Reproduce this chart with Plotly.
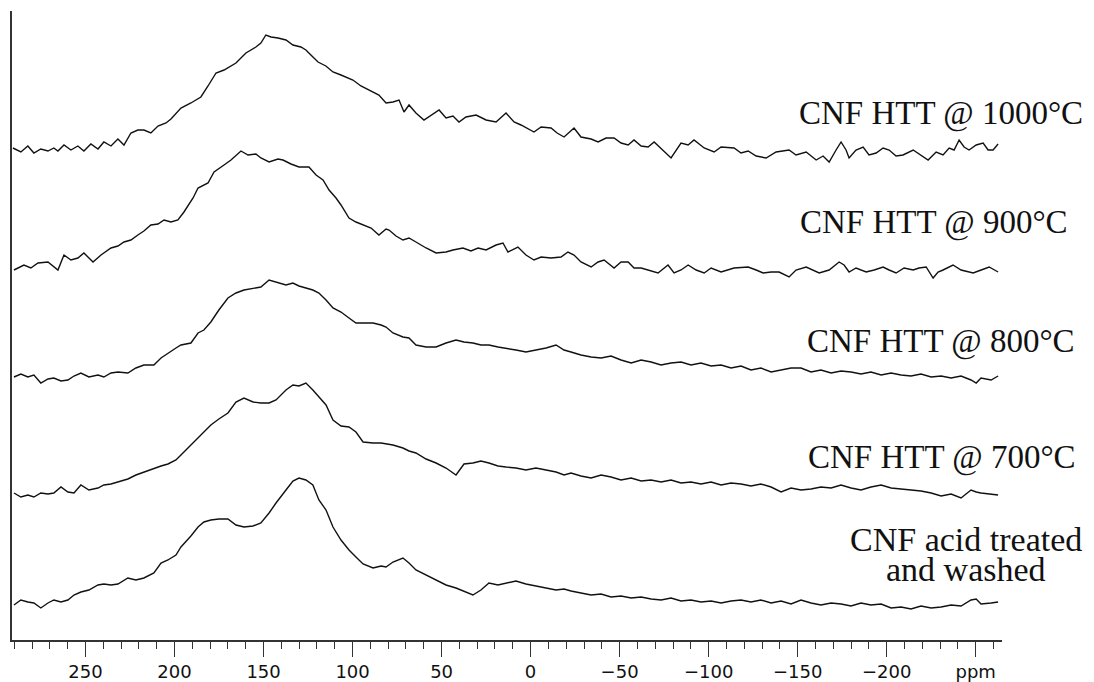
import plotly.graph_objects as go

# ---- spectrum 1: CNF HTT @ 1000°C ----
ppm_1000 = [290.8, 286.3, 282.4, 279.0, 275.1, 271.1, 267.8, 265.5, 262.1, 258.2,
            254.3, 250.9, 247.0, 243.0, 239.7, 235.7, 231.8, 228.4, 224.5, 220.6,
            217.2, 213.3, 209.3, 204.8, 202.0, 196.4, 190.8, 185.2, 181.2, 176.7,
            172.2, 165.5, 159.9, 154.3, 151.5, 148.7, 145.8, 141.9, 137.4, 133.5,
            129.0, 126.2, 123.4, 119.4, 115.0, 111.0, 106.5, 99.8, 95.3, 90.8,
            85.2, 81.2, 77.3, 73.9, 71.1, 68.3, 64.4, 59.9, 55.9, 51.4,
            47.5, 43.6, 40.2, 36.3, 30.6, 25.0, 19.4, 16.6, 13.8, 9.3,
            5.4, -1.9, -5.9, -11.5, -14.9, -18.8, -24.4, -28.3, -34.0, -37.9,
            -42.4, -46.9, -50.8, -54.8, -58.1, -62.1, -66.0, -69.4, -73.3, -78.9,
            -84.5, -88.5, -91.8, -97.5, -103.1, -107.0, -114.3, -118.2, -122.2, -126.7,
            -132.3, -137.9, -145.2, -149.1, -154.8, -160.4, -164.3, -167.7, -171.6, -174.4,
            -177.2, -178.9, -182.8, -186.8, -190.1, -194.1, -198.0, -201.4, -205.3, -209.2,
            -214.9, -219.4, -223.3, -227.8, -231.7, -235.1, -237.9, -240.7, -243.5, -246.3,
            -250.3, -254.2, -257.0, -259.8, -262.6]
int_1000 = [492, 488, 494, 487, 491, 489, 492, 489, 495, 490,
            494, 489, 496, 491, 498, 494, 501, 495, 507, 510,
            510, 507, 514, 517, 521, 532, 537, 543, 554, 567,
            570, 577, 587, 593, 597, 605, 603, 602, 600, 595,
            593, 590, 585, 578, 574, 568, 565, 560, 554, 550,
            545, 537, 538, 540, 528, 535, 527, 520, 525, 530,
            522, 524, 518, 523, 525, 520, 518, 523, 527, 518,
            515, 508, 513, 512, 507, 503, 512, 503, 501, 498,
            502, 502, 497, 495, 500, 494, 493, 498, 491, 482,
            497, 495, 500, 492, 488, 493, 492, 487, 489, 484,
            482, 488, 490, 485, 488, 480, 484, 478, 490, 498,
            490, 482, 490, 493, 485, 487, 492, 490, 484, 485,
            490, 485, 480, 488, 485, 492, 490, 500, 493, 490,
            495, 497, 490, 490, 496]

# ---- spectrum 2: CNF HTT @ 900°C ----
ppm_900 = [290.2, 284.6, 280.7, 276.7, 271.1, 265.5, 262.1, 258.2, 254.3, 250.9,
           245.8, 241.3, 235.7, 231.8, 228.4, 224.5, 220.6, 217.2, 213.3, 209.3,
           205.9, 202.0, 198.1, 194.7, 189.6, 186.8, 181.2, 177.8, 172.2, 168.3,
           162.7, 158.7, 154.3, 151.5, 146.9, 141.9, 139.1, 134.6, 130.1, 124.5,
           120.5, 116.6, 113.2, 109.3, 106.5, 102.0, 98.1, 94.1, 89.6, 85.2,
           81.2, 79.5, 75.6, 71.7, 68.3, 64.4, 58.7, 53.1, 47.5, 43.6,
           38.0, 33.5, 29.5, 25.0, 19.4, 15.5, 12.7, 7.1, 2.6, -1.9,
           -5.9, -11.5, -17.1, -21.0, -24.4, -28.3, -34.0, -37.9, -41.3, -46.9,
           -50.8, -54.8, -58.1, -62.1, -66.0, -71.6, -77.2, -80.6, -84.5, -88.5,
           -93.0, -97.5, -101.4, -107.0, -114.3, -122.2, -126.7, -130.6, -135.1, -139.6,
           -145.2, -149.1, -154.8, -158.7, -162.1, -167.7, -173.3, -176.1, -178.9, -182.8,
           -188.5, -193.0, -198.0, -201.4, -205.3, -209.8, -214.9, -218.2, -222.2, -226.1,
           -228.9, -231.7, -237.3, -241.8, -248.6, -253.1, -257.6, -262.6]
int_900 = [370, 375, 372, 377, 378, 370, 385, 380, 382, 387,
           378, 385, 392, 394, 398, 400, 405, 409, 415, 416,
           420, 418, 420, 428, 442, 452, 457, 468, 475, 480,
           489, 485, 486, 482, 478, 481, 480, 476, 473, 473,
           465, 460, 450, 442, 435, 422, 418, 415, 412, 405,
           411, 410, 404, 400, 402, 398, 392, 387, 388, 390,
           392, 389, 392, 390, 395, 397, 388, 393, 385, 380,
           383, 382, 383, 388, 385, 378, 373, 378, 380, 372,
           378, 378, 372, 372, 370, 367, 375, 367, 370, 375,
           370, 367, 372, 368, 372, 373, 370, 367, 368, 368,
           363, 370, 373, 370, 367, 370, 378, 375, 368, 372,
           368, 370, 373, 370, 367, 372, 370, 372, 373, 362,
           368, 370, 375, 370, 367, 370, 373, 368]

# ---- shared ppm grid for the three lower spectra ----
ppm_low = [290.2, 286.3, 282.4, 279.0, 275.1, 271.1, 267.8, 263.8, 259.9, 256.5,
           252.6, 248.1, 243.0, 239.7, 235.7, 231.8, 226.2, 221.7, 217.2, 211.6,
           207.6, 203.7, 199.2, 196.4, 190.8, 186.8, 183.5, 179.6, 175.1, 170.0,
           165.5, 161.0, 155.9, 151.5, 146.9, 143.0, 137.4, 133.5, 130.1, 126.2,
           122.3, 118.9, 114.9, 111.0, 106.5, 102.0, 98.1, 94.1, 88.5, 84.0,
           81.2, 77.3, 71.7, 68.3, 64.4, 58.7, 53.1, 47.5, 41.9, 37.4,
           32.4, 27.9, 23.4, 18.3, 13.8, 8.2, 2.6, -3.0, -8.7, -14.3,
           -18.8, -22.7, -28.3, -34.0, -39.6, -45.2, -50.8, -56.5, -62.1, -67.7,
           -73.3, -78.9, -84.5, -90.1, -95.7, -101.4, -107.0, -112.6, -118.2, -123.8,
           -129.4, -135.1, -140.7, -146.3, -151.9, -157.5, -163.1, -168.8, -174.4, -180.0,
           -185.6, -191.2, -196.9, -202.5, -208.1, -213.7, -219.3, -225.0, -230.6, -236.2,
           -241.8, -247.4, -250.3, -253.0, -258.7, -262.6]

int_800 = [263, 266, 263, 265, 257, 261, 262, 259, 260, 264,
           267, 263, 265, 263, 267, 268, 267, 272, 275, 275,
           282, 287, 292, 295, 297, 307, 310, 318, 330, 342,
           347, 350, 352, 353, 360, 358, 355, 357, 354, 352,
           350, 347, 340, 332, 328, 322, 317, 317, 317, 315,
           313, 307, 303, 302, 295, 293, 293, 297, 300, 298,
           297, 295, 295, 293, 292, 290, 288, 290, 292, 295,
           290, 288, 285, 283, 282, 284, 280, 277, 280, 278,
           275, 277, 278, 275, 277, 274, 275, 272, 274, 270,
           272, 268, 270, 272, 272, 268, 270, 267, 269, 268,
           266, 268, 265, 267, 265, 264, 266, 263, 264, 262,
           264, 260, 257, 262, 260, 264]

int_700 = [147, 143, 145, 143, 147, 146, 147, 153, 148, 147,
           155, 150, 152, 155, 156, 158, 161, 165, 168, 171,
           174, 176, 180, 185, 195, 202, 207, 215, 221, 227,
           238, 242, 238, 237, 237, 240, 250, 255, 254, 257,
           250, 243, 235, 220, 214, 213, 208, 198, 197, 197,
           196, 195, 192, 189, 187, 181, 177, 172, 165, 176,
           177, 179, 177, 174, 173, 172, 170, 172, 170, 168,
           165, 167, 164, 162, 165, 163, 160, 162, 159, 160,
           158, 160, 157, 158, 156, 158, 155, 157, 156, 154,
           156, 153, 148, 152, 150, 151, 153, 152, 155, 152,
           150, 153, 155, 152, 151, 150, 149, 147, 144, 146,
           142, 150, 148, 147, 146, 145]

int_acid = [35, 40, 38, 37, 32, 37, 40, 38, 40, 45,
            48, 50, 55, 56, 55, 56, 62, 60, 62, 67,
            77, 80, 85, 93, 104, 113, 118, 120, 121, 121,
            115, 113, 114, 117, 127, 137, 150, 159, 162, 160,
            155, 140, 130, 113, 100, 90, 83, 76, 72, 74,
            73, 78, 82, 77, 70, 65, 60, 55, 52, 49,
            45, 50, 57, 55, 57, 59, 56, 54, 52, 50,
            51, 49, 47, 45, 46, 43, 44, 42, 43, 41,
            40, 42, 39, 40, 38, 39, 37, 39, 40, 38,
            40, 37, 39, 36, 40, 37, 35, 37, 36, 34,
            37, 35, 36, 32, 33, 31, 34, 32, 33, 35,
            34, 40, 41, 36, 37, 38]

series = [
    ("CNF HTT @ 1000°C", ppm_1000, int_1000),
    ("CNF HTT @ 900°C", ppm_900, int_900),
    ("CNF HTT @ 800°C", ppm_low, int_800),
    ("CNF HTT @ 700°C", ppm_low, int_700),
    ("CNF acid treated and washed", ppm_low, int_acid),
]

tick_vals = [250, 200, 150, 100, 50, 0, -50, -100, -150, -200, -250]
tick_text = ["250", "200", "150", "100", "50", "0", "\u221250", "\u2212100",
             "\u2212150", "\u2212200", "ppm"]

# label positions (paper x, paper y), text, anchor, font size
labels = [
    ("CNF HTT @ 1000°C", 1.0838, 0.8378, "right", 33),
    ("CNF HTT @ 900°C", 1.0687, 0.6645, "right", 33),
    ("CNF HTT @ 800°C", 1.0758, 0.4753, "right", 33),
    ("CNF HTT @ 700°C", 1.0768, 0.2909, "right", 33),
    ("CNF acid treated", 0.9637, 0.1590, "center", 34),
    ("and washed", 0.9637, 0.1113, "center", 34),
]

fig = go.Figure()
for name, xs, ys in series:
    fig.add_trace(go.Scatter(x=xs, y=ys, mode="lines", name=name,
                             line=dict(color="#111111", width=1.4),
                             showlegend=False, hoverinfo="skip"))

for text, x, y, anchor, size in labels:
    fig.add_annotation(x=x, y=y, xref="paper", yref="paper", text=text,
                       showarrow=False, xanchor=anchor, yanchor="middle",
                       font=dict(family="Liberation Serif", size=size, color="#111111"))

fig.update_layout(
    width=1094, height=682, autosize=False,
    margin=dict(l=12, r=92, t=11, b=42, autoexpand=False),
    paper_bgcolor="white", plot_bgcolor="white",
    xaxis=dict(range=[291.3, -264.8], showgrid=False, zeroline=False,
               automargin=False,
               showline=True, linecolor="#333333", linewidth=1.5,
               tickmode="array", tickvals=tick_vals, ticktext=tick_text,
               ticks="outside", ticklen=15, tickwidth=1, tickcolor="#333333",
               tickfont=dict(family="DejaVu Sans", size=18, color="#111111"),
               minor=dict(ticks="outside", ticklen=7, tickwidth=1,
                          tickcolor="#333333", tickmode="linear", tick0=0, dtick=10)),
    yaxis=dict(range=[0, 629], showgrid=False, zeroline=False, automargin=False,
               showline=True, linecolor="#333333", linewidth=1.5,
               ticks="", showticklabels=False),
)

fig.write_html("out.html",
               config={"displayModeBar": False},
               post_script="document.body.style.margin='0';"
                           "document.body.style.overflow='hidden';")
